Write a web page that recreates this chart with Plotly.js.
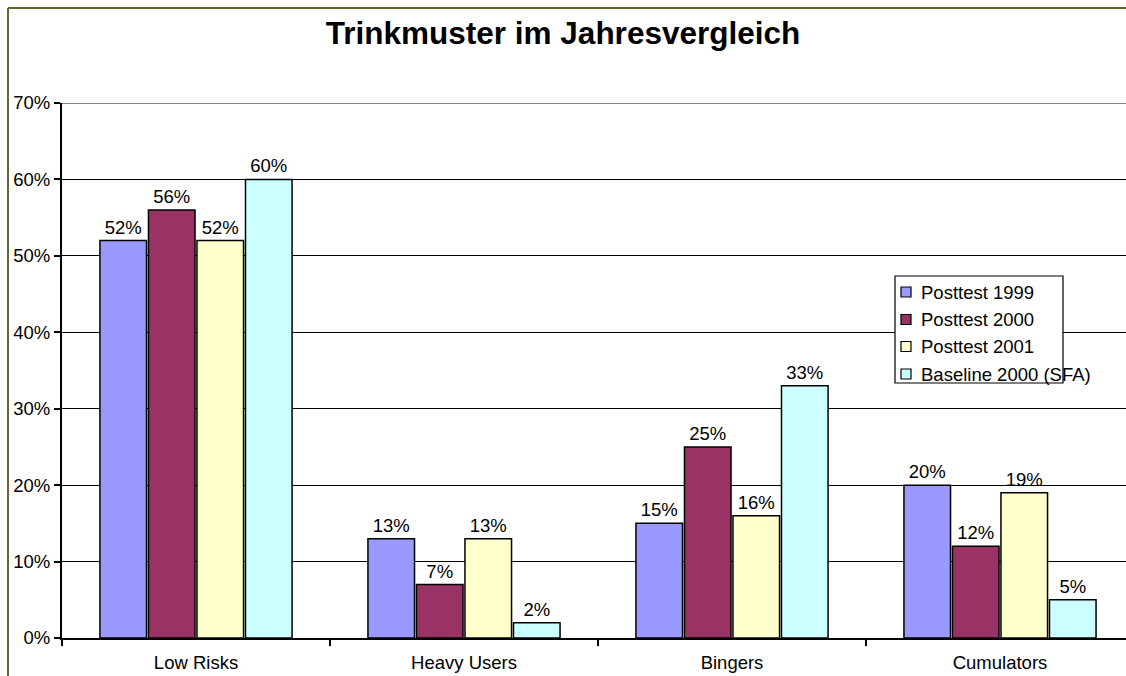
<!DOCTYPE html>
<html>
<head>
<meta charset="utf-8">
<script src="https://cdn.plot.ly/plotly-3.0.1.min.js"></script>
<style>
html,body{margin:0;padding:0;overflow:hidden;background:#fff;}
#chart{width:1126px;height:676px;}
</style>
</head>
<body>
<div id="chart"></div>
<script>
var categories = ["Low Risks", "Heavy Users", "Bingers", "Cumulators"];
var seriesNames = ["Posttest 1999", "Posttest 2000", "Posttest 2001", "Baseline 2000 (SFA)"];
var posttest1999 = [52, 13, 15, 20];
var posttest2000 = [56, 7, 25, 12];
var posttest2001 = [52, 13, 16, 19];
var baseline2000 = [60, 2, 33, 5];
var seriesValues = [posttest1999, posttest2000, posttest2001, baseline2000];
var colors = ["#9999FF", "#993366", "#FFFFCC", "#CCFFFF"];

var W = 1126, H = 676;
var L = 62, R = 1126, T = 103, B = 638;
var catWidth = 268;
function px(x){ return (x - L) / (R - L); }
function py(y){ return (B - y) / (B - T); }

var font = "Liberation Sans, Arial, sans-serif";
var traces = seriesValues.map(function(vals, i){
  return {
    type: "bar",
    name: seriesNames[i],
    x: categories,
    y: vals,
    text: vals.map(function(v){ return v + "%"; }),
    textposition: "outside",
    textfont: {family: font, size: 18.5, color: "#000"},
    cliponaxis: false,
    marker: {color: colors[i], line: {color: "#000", width: 1.5}},
    hoverinfo: "x+y+name"
  };
});

var shapes = [
  {type: "line", xref: "paper", yref: "y", x0: 0, x1: 1, y0: 70, y1: 70, line: {color: "#808080", width: 2}},
  {type: "line", xref: "paper", yref: "paper", x0: px(8), x1: px(1126), y0: py(8), y1: py(8), line: {color: "#666633", width: 2}},
  {type: "line", xref: "paper", yref: "paper", x0: px(8), x1: px(8), y0: py(8), y1: py(676), line: {color: "#666633", width: 2}},
  {type: "rect", xref: "paper", yref: "paper", x0: px(895), x1: px(1063), y0: py(276), y1: py(383), line: {color: "#000", width: 1.2}, fillcolor: "#fff", layer: "above"}
];
var annotations = [];
var rowY = [292, 319.5, 346.5, 374];
seriesNames.forEach(function(n, i){
  shapes.push({type: "rect", xref: "paper", yref: "paper", x0: px(901), x1: px(911), y0: py(rowY[i] - 5), y1: py(rowY[i] + 5), line: {color: "#000", width: 1.2}, fillcolor: colors[i], layer: "above"});
  annotations.push({xref: "paper", yref: "paper", x: px(919), y: py(rowY[i]), xanchor: "left", yanchor: "middle", text: n, showarrow: false, font: {family: font, size: 18.5, color: "#000"}});
});

var layout = {
  width: W, height: H,
  margin: {l: L, r: W - R, t: T, b: H - B, pad: 0},
  paper_bgcolor: "#fff",
  plot_bgcolor: "#fff",
  showlegend: false,
  barmode: "group",
  bargap: 0.276,
  bargroupgap: 0.04,
  title: {text: "Trinkmuster im Jahresvergleich", font: {family: font, size: 31.5, color: "#000", weight: "bold"}, xref: "container", x: 563 / W, xanchor: "center", yref: "container", y: 1 - 33 / H, yanchor: "middle"},
  xaxis: {
    type: "category",
    range: [-0.5, -0.5 + (R - L) / catWidth],
    tickson: "boundaries",
    ticks: "outside", ticklen: 6, tickwidth: 1.5, tickcolor: "#000",
    showline: true, linecolor: "#000", linewidth: 2,
    showgrid: false,
    ticklabelstandoff: 7,
    tickfont: {family: font, size: 18.5, color: "#000"},
    fixedrange: true
  },
  yaxis: {
    range: [0, 70], dtick: 10, tick0: 0,
    ticksuffix: "%",
    ticks: "outside", ticklen: 6, tickwidth: 1.5, tickcolor: "#000",
    showline: true, linecolor: "#000", linewidth: 2,
    showgrid: true, gridcolor: "#000", gridwidth: 1,
    zeroline: false,
    tickfont: {family: font, size: 18.5, color: "#000"},
    fixedrange: true
  },
  shapes: shapes,
  annotations: annotations
};

Plotly.newPlot("chart", traces, layout, {displayModeBar: false});
</script>
</body>
</html>
